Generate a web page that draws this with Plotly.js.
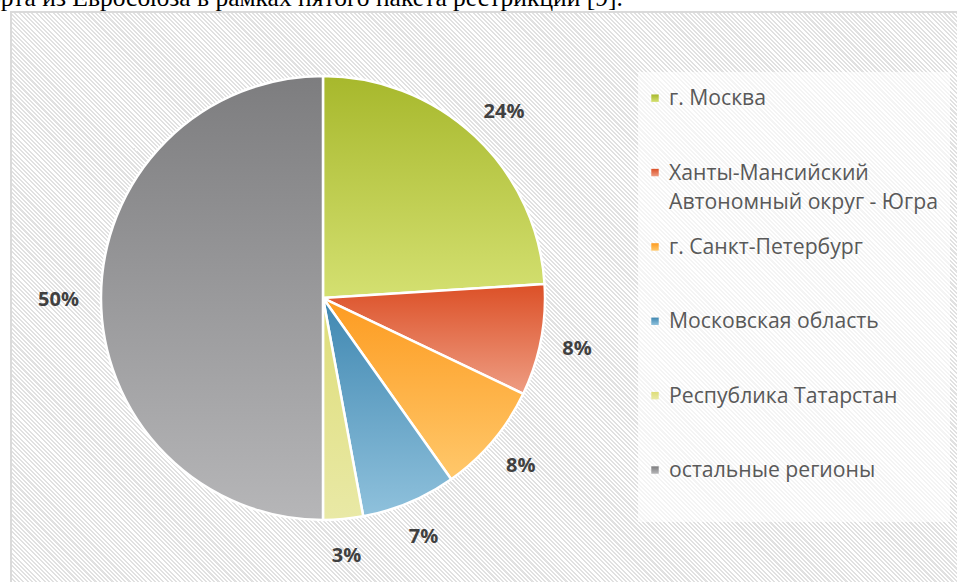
<!DOCTYPE html>
<html><head><meta charset="utf-8">
<script src="https://cdn.plot.ly/plotly-3.0.1.min.js"></script>
<style>
html,body{margin:0;padding:0;width:957px;height:582px;overflow:hidden;background:#fff;}
#frame{position:absolute;left:10px;top:11px;width:960px;height:590px;border:2px solid #dadada;
 background:repeating-linear-gradient(45deg,#ffffff 0px,#ffffff 1.5px,#e1e1e1 1.5px,#e1e1e1 3px);}
#cap{position:absolute;left:0;top:0;}
#chart{position:absolute;left:0;top:0;width:957px;height:582px;}
</style></head><body>
<svg id="cap" width="957" height="12"><text id="captext" x="0" y="6" font-family="Liberation Serif" font-size="25.5" fill="#000">импорта из Евросоюза в рамках пятого пакета рестрикций [9].</text></svg>
<div id="frame"></div>
<div id="chart"></div>
<script>
// ---- data ----
const regions = ["г. Москва", "Ханты-Мансийский<br>Автономный округ - Югра", "г. Санкт-Петербург", "Московская область", "Республика Татарстан", "остальные регионы"];
const shares = [24.0, 8.1, 8.1, 6.9, 2.9, 50.0];
const colorsTop = ["#a7b82c", "#dc5027", "#fd9b20", "#3f87b1", "#dedd78", "#7d7d7f"];
const colorsBottom = ["#d4e071", "#ee9d83", "#ffc86b", "#8fc1dc", "#e9e9a6", "#b6b6b8"];
const colorsMid = ["#bccb4c", "#e57454", "#feb045", "#66a3c6", "#e3e38f", "#99999b"];

const LEGEND_FONT = 18.3;

// place caption so that "в рамках" starts where it does in the reference
(function () {
  const t = document.getElementById("captext");
  const s = t.textContent;
  const idx = s.indexOf("в рамках");
  const off = t.getSubStringLength(0, idx);
  t.setAttribute("x", 197 - off);
})();

// legend labels: pad with blank lines so the first text line sits on the marker
const legendLabels = regions.map(r => {
  const lines = r.split("<br>");
  const padded = [" "].concat(lines);
  while (padded.length < 3) padded.push(" ");
  return padded.map(l => l.trim() ? '<span style="font-size:21.2px">' + l + '</span>' : " ").join("<br>");
});

const trace = {
  type: "pie",
  labels: legendLabels,
  values: shares,
  sort: false,
  direction: "clockwise",
  rotation: 0,
  marker: { colors: colorsMid, line: { color: "#ffffff", width: 2.5 } },
  textposition: "outside",
  texttemplate: "%{percent:.0%}",
  textfont: { family: "Open Sans", size: 20, color: "#404040", weight: "bold" },
  hoverinfo: "skip",
  domain: { x: [0.1055, 0.5695], y: [0.1065, 0.8694] }
};

const layout = {
  width: 957, height: 582,
  margin: { l: 0, r: 0, t: 0, b: 0 },
  paper_bgcolor: "rgba(0,0,0,0)",
  plot_bgcolor: "rgba(0,0,0,0)",
  showlegend: true,
  shapes: [{
    type: "rect", xref: "paper", yref: "paper", layer: "below",
    x0: 638 / 957, x1: 950 / 957, y0: (582 - 522) / 582, y1: (582 - 72) / 582,
    fillcolor: "rgba(255,255,255,0.62)", line: { width: 0 }
  }],
  legend: {
    x: 629 / 957, xanchor: "left",
    y: (582 - 56) / 582, yanchor: "top",
    bgcolor: "rgba(0,0,0,0)",
    borderwidth: 0,
    font: { family: "Open Sans", size: LEGEND_FONT, color: "#595959" },
    itemclick: false, itemdoubleclick: false
  }
};

const gd = document.getElementById("chart");

function decorate() {
  const svg = gd.querySelector(".main-svg");
  if (!svg) return;
  let defs = svg.querySelector("defs#grads");
  if (!defs) {
    defs = document.createElementNS("http://www.w3.org/2000/svg", "defs");
    defs.setAttribute("id", "grads");
    colorsTop.forEach((c, i) => {
      const g = document.createElementNS("http://www.w3.org/2000/svg", "linearGradient");
      g.setAttribute("id", "grad" + i);
      g.setAttribute("x1", "0"); g.setAttribute("y1", "0");
      g.setAttribute("x2", "0"); g.setAttribute("y2", "1");
      [[0, colorsTop[i]], [1, colorsBottom[i]]].forEach(([o, col]) => {
        const s = document.createElementNS("http://www.w3.org/2000/svg", "stop");
        s.setAttribute("offset", o); s.setAttribute("stop-color", col);
        g.appendChild(s);
      });
      defs.appendChild(g);
    });
    svg.insertBefore(defs, svg.firstChild);
  }
  gd.querySelectorAll(".slice path.surface").forEach((p, i) => {
    p.style.fill = "url(#grad" + i + ")";
  });
  gd.querySelectorAll(".legendpoints path").forEach((p, i) => {
    p.style.fill = "url(#grad" + i + ")";
    p.style.stroke = "none";
    p.setAttribute("transform", "translate(26,0) scale(0.62)");
  });
  // wider line gap for the two-line legend entry
  gd.querySelectorAll(".legend .traces text.legendtext").forEach(t => {
    const lines = t.querySelectorAll("tspan.line");
    let filled = 0;
    lines.forEach(l => {
      if (l.textContent.trim()) {
        filled++;
        if (filled === 2) {
          if (!l.dataset.origDy) l.dataset.origDy = l.getAttribute("dy") || "0";
          const d = l.dataset.origDy;
          const px = d.endsWith("em") ? parseFloat(d) * LEGEND_FONT : parseFloat(d);
          l.setAttribute("dy", String(px + 6));
        }
      }
    });
  });
  gd.querySelectorAll(".slice path.textline").forEach(p => { p.style.display = "none"; });

  // push percentage labels a little further out, along each slice's mid direction
  const cd = gd.calcdata && gd.calcdata[0];
  if (!cd) return;
  const cd0 = cd[0];
  const chartRect = gd.getBoundingClientRect();
  const fl = gd._fullLayout;
  const cx = fl._size.l + cd0.cx, cy = fl._size.t + cd0.cy, r = cd0.r;
  const gap = 22;
  gd.querySelectorAll(".slice text.slicetext").forEach((t, i) => {
    if (!t.dataset.orig) t.dataset.orig = t.getAttribute("transform") || "";
    t.setAttribute("transform", t.dataset.orig);
    const pt = cd[i];
    const mx = pt.pxmid[0], my = pt.pxmid[1];
    const len = Math.hypot(mx, my) || 1;
    const ux = mx / len, uy = my / len;
    const b = t.getBoundingClientRect();
    const w = b.width, h = b.height;
    const curX = b.left - chartRect.left + w / 2, curY = b.top - chartRect.top + h / 2;
    const tx = cx + ux * (r + gap) + ux * w / 2;
    const ty = cy + uy * (r + gap) + uy * h / 2;
    t.setAttribute("transform", "translate(" + (tx - curX) + "," + (ty - curY) + ") " + t.dataset.orig);
  });
}

Plotly.newPlot(gd, [trace], layout, { staticPlot: true, displayModeBar: false }).then(() => {
  decorate();
});
</script>
</body></html>
